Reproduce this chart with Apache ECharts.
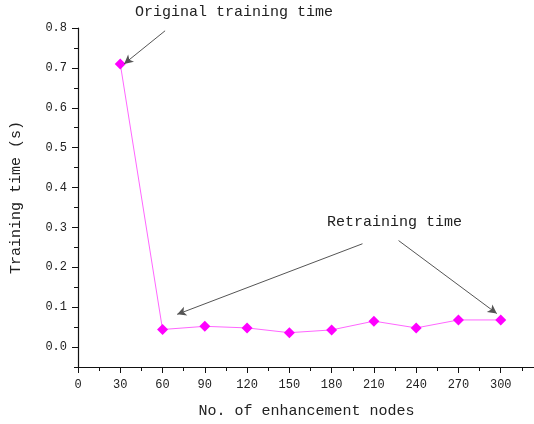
<!DOCTYPE html>
<html>
<head>
<meta charset="utf-8">
<script src="https://cdn.jsdelivr.net/npm/echarts@6/dist/echarts.min.js"></script>
<style>
  html, body { margin: 0; padding: 0; background: #fff; overflow: hidden; }
  #chart { width: 545px; height: 424px; }
</style>
</head>
<body>
<div id="chart"></div>
<script>
// Training time versus number of enhancement nodes
const nodes = [30, 60, 90, 120, 150, 180, 210, 240, 270, 300];
const trainingTime = [0.71, 0.044, 0.052, 0.048, 0.036, 0.043, 0.065, 0.048, 0.068, 0.068];

// Tick values
const yMajorTicks = [0, 0.1, 0.2, 0.3, 0.4, 0.5, 0.6, 0.7, 0.8];
const yMinorTicks = [-0.05, 0.05, 0.15, 0.25, 0.35, 0.45, 0.55, 0.65, 0.75];
const xMajorTicks = [0, 30, 60, 90, 120, 150, 180, 210, 240, 270, 300, 330];

// Annotation arrows, in data units: [start, end]
const originalArrow = [[61.8, 0.793], [32.7, 0.71]];
const retrainArrows = [
  [[201.9, 0.259], [70.4, 0.082]],
  [[227.5, 0.267], [297.2, 0.084]]
];

const FONT = '"Liberation Mono", "DejaVu Sans Mono", monospace';
const AXIS_COLOR = '#111';

const chart = echarts.init(document.getElementById('chart'), null, { renderer: 'canvas' });

const arrowLines = [originalArrow].concat(retrainArrows).map(a => [
  { coord: a[0] },
  { coord: a[1] }
]);

chart.setOption({
  backgroundColor: '#fff',
  animation: false,
  grid: { left: 78, right: 2, top: 28, bottom: 56 },
  xAxis: {
    type: 'value',
    min: 0,
    max: 330,
    interval: 30,
    name: 'No. of enhancement nodes',
    nameLocation: 'middle',
    nameGap: 37,
    nameTextStyle: { fontFamily: FONT, fontSize: 15, color: '#222', padding: [0, 8, 0, 0] },
    axisLine: { show: true, onZero: false, lineStyle: { color: AXIS_COLOR, width: 1.2 } },
    axisTick: { show: true, inside: false, length: 6, lineStyle: { color: AXIS_COLOR } },
    minorTick: { show: true, splitNumber: 2, length: 4, lineStyle: { color: AXIS_COLOR } },
    axisLabel: {
      fontFamily: FONT, fontSize: 12, color: '#222', margin: 12,
      customValues: xMajorTicks.filter(v => v <= 300)
    },
    splitLine: { show: false }
  },
  yAxis: [
    {
      type: 'value',
      min: -0.05,
      max: 0.8,
      name: 'Training time (s)',
      nameLocation: 'middle',
      nameGap: 54,
      nameTextStyle: { fontFamily: FONT, fontSize: 15, color: '#222' },
      axisLine: { show: true, lineStyle: { color: AXIS_COLOR, width: 1.2 } },
      axisTick: { show: true, inside: false, length: 6, customValues: yMajorTicks, lineStyle: { color: AXIS_COLOR } },
      axisLabel: {
        fontFamily: FONT, fontSize: 12, color: '#222', margin: 11,
        customValues: yMajorTicks,
        formatter: v => v.toFixed(1)
      },
      splitLine: { show: false }
    },
    {
      // minor ticks between the labelled values
      type: 'value',
      position: 'left',
      min: -0.05,
      max: 0.8,
      axisLine: { show: false },
      axisTick: { show: true, inside: false, length: 4, customValues: yMinorTicks, lineStyle: { color: AXIS_COLOR } },
      axisLabel: { show: false },
      splitLine: { show: false }
    }
  ],
  series: [{
    type: 'line',
    yAxisIndex: 0,
    data: nodes.map((n, i) => [n, trainingTime[i]]),
    symbol: 'diamond',
    symbolSize: 11,
    lineStyle: { color: '#ff66ff', width: 1 },
    itemStyle: { color: '#ff00ff' },
    markLine: {
      silent: true,
      symbol: ['none', 'arrow'],
      symbolSize: [7, 9],
      label: { show: false },
      lineStyle: { color: '#555', width: 1, type: 'solid' },
      data: arrowLines
    }
  }],
  graphic: [
    {
      type: 'text', left: 135, top: 5,
      style: { text: 'Original training time', font: '15px ' + FONT, fill: '#222' }
    },
    {
      type: 'text', left: 327, top: 215,
      style: { text: 'Retraining time', font: '15px ' + FONT, fill: '#222' }
    }
  ]
});
</script>
</body>
</html>
